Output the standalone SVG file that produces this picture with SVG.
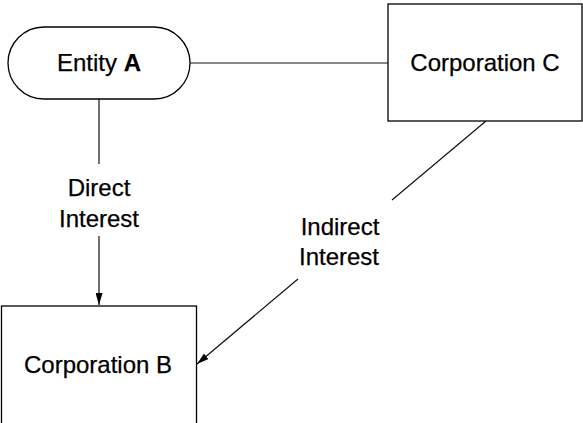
<svg xmlns="http://www.w3.org/2000/svg" width="583" height="423" viewBox="0 0 583 423">
<style>
.shape{fill:#fff;stroke:#000;stroke-width:1.3}
.edge{fill:none;stroke:#111;stroke-width:1.2}
text{font-family:"Liberation Sans",Arial,sans-serif;font-size:24px;fill:#000;stroke:#000;stroke-width:0.25;text-anchor:middle}
</style>
<defs>
<marker id="arr" viewBox="0 0 12 7" refX="12" refY="3.5" markerWidth="12" markerHeight="7" markerUnits="userSpaceOnUse" orient="auto">
<path d="M0,0 L12,3.5 L0,7 z" fill="#000"/>
</marker>
</defs>
<rect width="583" height="423" fill="#fff"/>
<g id="connectors">
<path class="edge" d="M190,63 H388"/>
<path class="edge" d="M99,99 V164"/>
<path class="edge" d="M99,236 V305" marker-end="url(#arr)"/>
<path class="edge" d="M486,121 L392,200"/>
<path class="edge" d="M298,279 L197,364" marker-end="url(#arr)"/>
<text x="99" y="196">Direct</text>
<text x="99" y="227">Interest</text>
<text x="340" y="235">Indirect</text>
<text x="339" y="265">Interest</text>
</g>
<g id="entityA">
<rect class="shape" x="8" y="27" width="182" height="72" rx="36" ry="36"/>
<text x="99" y="71">Entity <tspan font-weight="bold">A</tspan></text>
</g>
<g id="corpC">
<rect class="shape" x="388" y="4" width="194" height="117"/>
<text x="485" y="71">Corporation C</text>
</g>
<g id="corpB">
<rect class="shape" x="1.5" y="306" width="195" height="130"/>
<text x="98" y="373">Corporation B</text>
</g>
</svg>
